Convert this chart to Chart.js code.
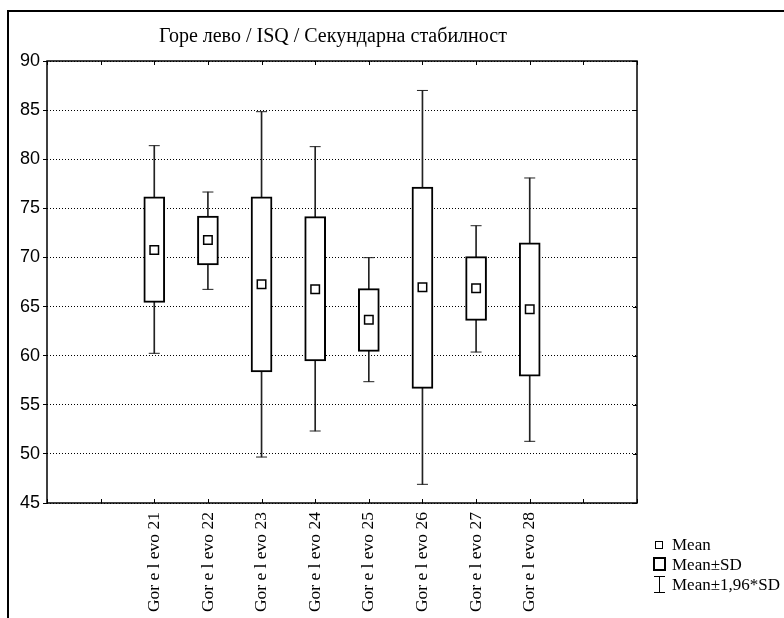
<!DOCTYPE html>
<html>
<head>
<meta charset="utf-8">
<title>Горе лево / ISQ / Секундарна стабилност</title>
<script src="https://cdn.jsdelivr.net/npm/chart.js@4.4.1/dist/chart.umd.min.js"></script>
<style>
  html, body { margin: 0; padding: 0; background: #fff; }
  #wrap { width: 784px; height: 618px; }
</style>
</head>
<body>
<div id="wrap"><canvas id="boxChart" width="784" height="618"></canvas></div>
<script>
// values
var categories = ['Gor e l evo 21', 'Gor e l evo 22', 'Gor e l evo 23', 'Gor e l evo 24',
                  'Gor e l evo 25', 'Gor e l evo 26', 'Gor e l evo 27', 'Gor e l evo 28'];
var means  = [70.76, 71.78, 67.26, 66.75, 63.66, 66.96, 66.86, 64.72];
var sdLow  = [65.43, 69.23, 58.34, 59.46, 60.44, 56.67, 63.60, 57.90];
var sdHigh = [76.18, 74.22, 76.18, 74.15, 66.82, 77.17, 70.08, 71.50];
var ciLow  = [60.24, 66.75, 49.68, 52.33, 57.35, 46.90, 60.37, 51.28];
var ciHigh = [81.38, 76.66, 84.84, 81.28, 69.98, 87.00, 73.23, 78.09];
var yTicks = [45, 50, 55, 60, 65, 70, 75, 80, 85, 90];

var titleText = 'Горе лево / ISQ / Секундарна стабилност';
var legendLabels = ['Mean', 'Mean±SD', 'Mean±1,96*SD'];

// two empty slots on each side, like the original axis
var xLabels = ['', ' '].concat(categories, ['  ', '   ']);

function pairs(lo, hi) {
  return categories.map(function (c, i) { return { x: c, y: [lo[i], hi[i]] }; });
}
function points(arr) {
  return categories.map(function (c, i) { return { x: c, y: arr[i] }; });
}

var serif = '"Liberation Serif", "Times New Roman", serif';
var sans = '"Liberation Sans", Arial, sans-serif';

var decor = {
  id: 'decor',
  afterDraw: function (chart) {
    var ctx = chart.ctx, a = chart.chartArea;
    var xs = chart.scales.x, ys = chart.scales.y;
    ctx.save();
    // outer frame (left + top)
    ctx.strokeStyle = '#000';
    ctx.lineWidth = 2;
    ctx.beginPath();
    ctx.moveTo(8, 618); ctx.lineTo(8, 11); ctx.lineTo(784, 11);
    ctx.stroke();
    // plot frame
    ctx.lineWidth = 1.5;
    ctx.strokeRect(a.left, a.top, a.right - a.left, a.bottom - a.top);
    // inward ticks
    ctx.lineWidth = 1;
    ctx.beginPath();
    for (var i = 0; i < xs.ticks.length; i++) {
      var px = Math.round(xs.getPixelForTick(i)) + 0.5;
      ctx.moveTo(px, a.bottom); ctx.lineTo(px, a.bottom - 4);
      ctx.moveTo(px, a.top); ctx.lineTo(px, a.top + 4);
    }
    yTicks.forEach(function (v) {
      var py = Math.round(ys.getPixelForValue(v)) + 0.5;
      ctx.moveTo(a.right, py); ctx.lineTo(a.right - 4, py);
    });
    ctx.stroke();
    // title
    ctx.fillStyle = '#000';
    ctx.font = '20px ' + serif;
    ctx.textAlign = 'center';
    ctx.textBaseline = 'alphabetic';
    ctx.fillText(titleText, 333, 42);
    // legend
    ctx.textAlign = 'left';
    ctx.font = '17px ' + serif;
    ctx.lineWidth = 1;
    ctx.strokeRect(655.5, 541.5, 7, 7);
    ctx.fillText(legendLabels[0], 672, 550);
    ctx.lineWidth = 2;
    ctx.strokeRect(654, 558, 11, 12);
    ctx.fillText(legendLabels[1], 672, 570);
    ctx.lineWidth = 1;
    ctx.beginPath();
    ctx.moveTo(659.5, 576); ctx.lineTo(659.5, 592);
    ctx.moveTo(654, 576.5); ctx.lineTo(665, 576.5);
    ctx.moveTo(654, 592.5); ctx.lineTo(665, 592.5);
    ctx.stroke();
    ctx.fillText(legendLabels[2], 672, 590);
    ctx.restore();
  }
};

new Chart(document.getElementById('boxChart'), {
  type: 'bar',
  data: {
    labels: xLabels,
    datasets: [
      {
        label: 'whisker',
        data: pairs(ciLow, ciHigh),
        backgroundColor: '#222',
        borderWidth: 0,
        barThickness: 1,
        grouped: false,
        order: 4
      },
      {
        label: legendLabels[1],
        data: pairs(sdLow, sdHigh),
        backgroundColor: '#fff',
        borderColor: '#000',
        borderWidth: 2,
        borderSkipped: false,
        barThickness: 21,
        grouped: false,
        order: 3
      },
      {
        type: 'line',
        label: 'capLow',
        data: points(ciLow),
        showLine: false,
        pointStyle: 'line',
        pointRadius: 5.5,
        borderColor: '#222',
        borderWidth: 1,
        order: 2
      },
      {
        type: 'line',
        label: 'capHigh',
        data: points(ciHigh),
        showLine: false,
        pointStyle: 'line',
        pointRadius: 5.5,
        borderColor: '#222',
        borderWidth: 1,
        order: 2
      },
      {
        type: 'line',
        label: legendLabels[0],
        data: points(means),
        showLine: false,
        pointStyle: 'rect',
        pointRadius: 6,
        pointBackgroundColor: '#fff',
        pointBorderColor: '#000',
        pointBorderWidth: 1.5,
        order: 1
      }
    ]
  },
  options: {
    responsive: false,
    animation: false,
    events: [],
    layout: { padding: { left: 0, top: 61, right: 147, bottom: 0 } },
    plugins: {
      legend: { display: false },
      title: { display: false },
      tooltip: { enabled: false }
    },
    scales: {
      x: {
        type: 'category',
        offset: false,
        grid: { display: false, drawTicks: false },
        border: { display: false },
        ticks: {
          autoSkip: false,
          minRotation: 90,
          maxRotation: 90,
          padding: 9,
          color: '#000',
          font: { family: serif, size: 17.5 }
        },
        afterFit: function (s) { s.height = 115; }
      },
      y: {
        min: 45,
        max: 90,
        afterBuildTicks: function (s) { s.ticks = yTicks.map(function (v) { return { value: v }; }); },
        grid: {
          color: '#000',
          lineWidth: 1,
          drawTicks: true,
          tickLength: 4,
          tickColor: '#000'
        },
        border: { display: false, dash: [1, 2] },
        ticks: {
          color: '#000',
          padding: 3,
          font: { family: sans, size: 18 }
        },
        afterFit: function (s) { s.width = 47; }
      }
    }
  },
  plugins: [decor]
});
</script>
</body>
</html>
